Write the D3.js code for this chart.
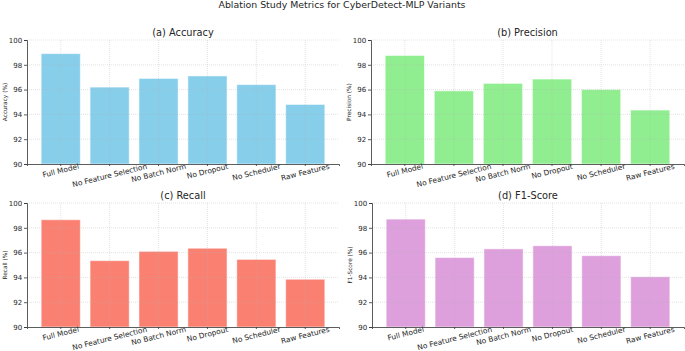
<!DOCTYPE html>
<html lang="en">
<head>
    <meta charset="UTF-8">
    <title>Ablation Study Metrics for CyberDetect-MLP Variants</title>
    <script src="https://d3js.org/d3.v7.min.js"></script>
    <style>
        body { margin: 0; background: #fff; }
        text { font-family: "DejaVu Sans", sans-serif; fill: #262626; }
        .title { font-size: 9.4px; }
        .sub-title { font-size: 9.8px; }
        .tick-label { font-size: 7px; }
        .x-label { font-size: 7.4px; }
        .axis-label { font-size: 5.8px; }
    </style>
</head>
<body>
    <svg width="685" height="351"></svg>

    <script>
        var variants = ["Full Model", "No Feature Selection", "No Batch Norm", "No Dropout", "No Scheduler", "Raw Features"];
        var accuracy = [98.9, 96.2, 96.9, 97.1, 96.4, 94.8];
        var precision = [98.75, 95.9, 96.5, 96.85, 96.0, 94.35];
        var recall = [98.65, 95.35, 96.1, 96.35, 95.45, 93.85];
        var f1 = [98.7, 95.6, 96.3, 96.55, 95.75, 94.05];
        var yTicks = [90, 92, 94, 96, 98, 100];

        var panels = [
            { title: "(a) Accuracy", label: "Accuracy (%)", values: accuracy, color: "#87CEEB", x0: 27, x1: 339, y0: 40, y1: 164 },
            { title: "(b) Precision", label: "Precision (%)", values: precision, color: "#90EE90", x0: 371, x1: 684, y0: 40, y1: 164 },
            { title: "(c) Recall", label: "Recall (%)", values: recall, color: "#FA8072", x0: 27, x1: 339, y0: 203, y1: 327 },
            { title: "(d) F1-Score", label: "F1-Score (%)", values: f1, color: "#DDA0DD", x0: 372, x1: 684, y0: 203, y1: 327 }
        ];

        var svg = d3.select("svg");

        svg.append("text")
           .attr("class", "title")
           .attr("x", 342)
           .attr("y", 5)
           .attr("dy", "0.35em")
           .attr("text-anchor", "middle")
           .text("Ablation Study Metrics for CyberDetect-MLP Variants");

        panels.forEach(function(p) {
            var x = d3.scaleBand()
                      .domain(variants)
                      .range([p.x0, p.x1])
                      .paddingInner(0.2)
                      .paddingOuter(0.29);
            var y = d3.scaleLinear().domain([90, 100]).range([p.y1, p.y0]);

            var g = svg.append("g");

            // bars
            g.selectAll(".bar")
             .data(p.values)
             .enter()
             .append("rect")
             .attr("x", function(d, i) { return x(variants[i]); })
             .attr("y", function(d) { return y(d); })
             .attr("width", x.bandwidth())
             .attr("height", function(d) { return y(90) - y(d); })
             .style("fill", p.color)
             .style("stroke", "#fff")
             .style("stroke-opacity", 0.5)
             .style("stroke-width", 1);

            // grid (sits on top of the bars, faint)
            g.selectAll(".hgrid")
             .data(yTicks.slice(1))
             .enter()
             .append("line")
             .attr("x1", p.x0).attr("x2", p.x1)
             .attr("y1", function(d) { return y(d); })
             .attr("y2", function(d) { return y(d); })
             .style("stroke", "#b0b0b0")
             .style("stroke-opacity", 0.45)
             .style("stroke-dasharray", "1,1")
             .style("stroke-width", 0.8);

            g.selectAll(".vgrid")
             .data(variants)
             .enter()
             .append("line")
             .attr("x1", function(d) { return x(d) + x.bandwidth() / 2; })
             .attr("x2", function(d) { return x(d) + x.bandwidth() / 2; })
             .attr("y1", p.y0).attr("y2", p.y1)
             .style("stroke", "#b0b0b0")
             .style("stroke-opacity", 0.45)
             .style("stroke-dasharray", "1,1")
             .style("stroke-width", 0.8);

            // axes
            var yAxis = g.append("g")
                         .attr("transform", "translate(" + p.x0 + ",0)")
                         .call(d3.axisLeft(y).tickValues(yTicks).tickSize(3).tickPadding(1.8));
            var xAxis = g.append("g")
                         .attr("transform", "translate(0," + p.y1 + ")")
                         .call(d3.axisBottom(x).tickSize(2).tickPadding(3));

            [yAxis, xAxis].forEach(function(a) {
                a.select(".domain").style("stroke", "#333").style("stroke-width", 0.8);
                a.selectAll(".tick line").style("stroke", "#333").style("stroke-width", 0.8);
                a.selectAll("text").attr("class", "tick-label").attr("fill", null);
            });

            // rotated x labels, centred on the tick
            xAxis.selectAll(".tick text")
                 .attr("class", "x-label")
                 .attr("text-anchor", "middle")
                 .attr("dy", "0.35em")
                 .attr("y", 0)
                 .attr("transform", function() {
                     var w = this.getComputedTextLength();
                     var a = 14 * Math.PI / 180;
                     var c = (w / 2) * Math.sin(a) + 2.1;
                     return "translate(0," + c + ") rotate(-14)";
                 });

            g.append("text")
             .attr("class", "sub-title")
             .attr("x", (p.x0 + p.x1) / 2)
             .attr("y", p.y0 - 4)
             .attr("text-anchor", "middle")
             .text(p.title);

            g.append("text")
             .attr("class", "axis-label")
             .attr("transform", "translate(" + (p.x0 - 20) + "," + ((p.y0 + p.y1) / 2) + ") rotate(-90)")
             .attr("text-anchor", "middle")
             .text(p.label);
        });
    </script>
</body>
</html>
